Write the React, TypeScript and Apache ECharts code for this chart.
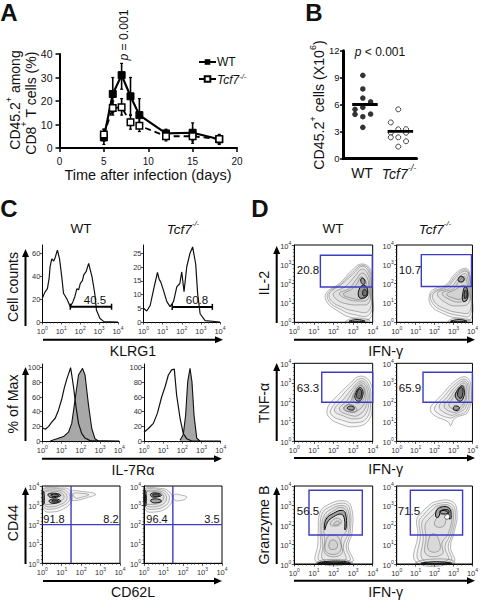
import React, { useEffect, useRef } from "react";
import * as echarts from "echarts";

const FONT = "Liberation Sans";
type P = number[];

// Panel A
const days = [5, 6, 7, 8, 9, 12, 15, 18];
const wtMean = [4.5, 23, 31, 22, 14, 6.2, 6.5, 3.7];
const koMean = [5.7, 17, 17.3, 11, 9.5, 5, 5, 3.8];
const wtHigh = [8, 30, 36, 30, 21, 8, 10.7, 5.8];
const wtLow = [1.5, 15, 25, 14, 9, 4.5, 3, 1.5];
const koHigh = [8, 20, 21, 14, 13, 7, 7.5, 5.5];
const koLow = [3, 14, 14, 8, 7, 3, 2, 2];

// Panel B
const wtDots: P[] = [[1, 9.25], [1, 7.73], [1, 6.72], [1.22, 6.3], [1, 5.68], [0.78, 5.46], [0.78, 4.9], [1.22, 4.93], [1, 4.64], [1, 3.45]];
const koDots: P[] = [[2, 5.46], [1.79, 4], [2, 3.23], [2.22, 3.25], [2.22, 2.85], [1.79, 2.85], [1.79, 2.34], [2, 2.34], [2.22, 1.9], [2, 1.3]];
const wtBar: P[] = [[0.7, 6], [1.42, 6]];
const koBar: P[] = [[1.7, 3], [2.42, 3]];

// Panel C histograms
const klrgWt: P[] = [[0, 20.6], [0.14, 26], [0.27, 29], [0.36, 38], [0.41, 48], [0.5, 55], [0.6, 53], [0.68, 56], [0.75, 60], [0.8, 62.6], [0.91, 55], [1.03, 39], [1.12, 25], [1.3, 20], [1.48, 13.3], [1.62, 17.7], [1.72, 22], [1.83, 29], [1.92, 28], [2.01, 33.6], [2.12, 36], [2.19, 41], [2.32, 44], [2.45, 51], [2.63, 39], [2.77, 25], [2.86, 10.4], [3.04, 3.2], [3.25, 0.3], [4, 0]];
const klrgKo: P[] = [[0, 5], [0.17, 4], [0.35, 6], [0.52, 11.6], [0.73, 18], [0.82, 15.5], [0.9, 14.6], [1.04, 11.6], [1.22, 7.4], [1.39, 5.6], [1.57, 7.4], [1.74, 12.8], [1.9, 14], [2, 18.2], [2.12, 11], [2.26, 20], [2.43, 25], [2.57, 27.3], [2.73, 21], [2.83, 10.4], [2.96, 3], [3.22, 0.5], [4, 0]];
const il7OpenWt: P[] = [[0, 18], [0.16, 16], [0.33, 20], [0.5, 26], [0.67, 31], [0.84, 42], [1.02, 58], [1.14, 72], [1.28, 85], [1.41, 95], [1.47, 100], [1.53, 90], [1.62, 74], [1.76, 45], [1.88, 24], [2.05, 10], [2.22, 4], [2.48, 0.5], [4, 0]];
const il7FillWt: P[] = [[0.41, 0], [0.76, 3], [1.1, 6], [1.36, 12], [1.53, 24], [1.71, 58], [1.88, 90], [2.09, 99], [2.22, 90], [2.4, 49], [2.57, 17], [2.74, 3], [2.91, 0]];
const il7OpenKo: P[] = [[0, 12], [0.23, 17], [0.49, 24], [0.7, 38], [0.92, 60], [1.1, 74], [1.27, 90], [1.44, 97], [1.58, 98], [1.7, 63], [1.88, 31], [2.05, 10], [2.23, 3], [2.49, 0], [4, 0]];
const il7FillKo: P[] = [[1.88, 1], [2.05, 9], [2.17, 35], [2.28, 81], [2.4, 99], [2.5, 81], [2.61, 35], [2.75, 4], [2.92, 0]];
const klrgGateWt: P[] = [[1.48, 13.3], [3.66, 13.3]];
const klrgGateKo: P[] = [[1.5, 5.5], [3.6, 5.5]];

// Panel C contours (log10 units)
const cdWtRings: P[][] = [
  [[0.03, 3.85], [0.9, 3.9], [1.42, 3.78], [1.52, 3.25], [1.1, 2.82], [0.45, 2.65], [0.08, 2.75], [0.02, 3.3]],
  [[0.06, 3.8], [0.85, 3.85], [1.3, 3.7], [1.4, 3.28], [1, 2.95], [0.45, 2.8], [0.1, 2.88], [0.05, 3.3]],
  [[0.08, 3.72], [0.8, 3.78], [1.2, 3.62], [1.25, 3.3], [0.95, 3.05], [0.45, 2.92], [0.12, 3], [0.07, 3.3]],
  [[0.1, 3.65], [0.7, 3.72], [1.05, 3.6], [1.1, 3.35], [0.8, 3.15], [0.4, 3.05], [0.12, 3.1]],
  [[1.5, 3.72], [2, 3.72], [2.75, 3.58], [2.25, 3.38], [1.7, 3.25], [1.5, 3.3]],
  [[1.6, 3.62], [2, 3.62], [2.4, 3.55], [2.1, 3.44], [1.7, 3.38]],
];
const cdWtCore: P[][] = [
  [[0.3, 3.58], [0.7, 3.62], [0.95, 3.52], [0.75, 3.42], [0.4, 3.42]],
  [[0.45, 3.55], [0.72, 3.57], [0.85, 3.5], [0.7, 3.46], [0.5, 3.47]],
  [[0.35, 3.25], [0.7, 3.33], [0.95, 3.22], [0.75, 3.12], [0.45, 3.12]],
  [[0.5, 3.24], [0.7, 3.27], [0.85, 3.2], [0.7, 3.17], [0.52, 3.18]],
  [[0.02, 3.7], [0.08, 3.7], [0.09, 3.1], [0.02, 3.05]],
];
const cdKoRings: P[][] = [
  [[0.03, 3.85], [0.8, 3.88], [1.25, 3.75], [1.45, 3.3], [1.15, 2.85], [0.5, 2.65], [0.08, 2.75], [0.02, 3.3]],
  [[0.06, 3.8], [0.75, 3.82], [1.15, 3.68], [1.3, 3.3], [1.05, 2.95], [0.5, 2.8], [0.1, 2.88], [0.05, 3.3]],
  [[0.08, 3.72], [0.7, 3.75], [1.05, 3.62], [1.15, 3.3], [0.95, 3.05], [0.45, 2.92], [0.12, 3], [0.07, 3.3]],
  [[0.1, 3.65], [0.65, 3.7], [0.95, 3.58], [1, 3.32], [0.8, 3.12], [0.4, 3.05], [0.12, 3.1]],
  [[1.55, 3.55], [1.95, 3.52], [2.2, 3.42], [1.95, 3.26], [1.55, 3.28]],
];
const cdKoCore: P[][] = [
  [[0.35, 3.6], [0.7, 3.63], [0.9, 3.52], [0.7, 3.44], [0.4, 3.44]],
  [[0.45, 3.56], [0.7, 3.58], [0.8, 3.51], [0.65, 3.47], [0.48, 3.48]],
  [[0.35, 3.28], [0.7, 3.33], [0.9, 3.22], [0.7, 3.14], [0.42, 3.15]],
  [[0.02, 3.75], [0.09, 3.75], [0.1, 3.0], [0.02, 2.95]],
  [[0.03, 3.55], [0.07, 3.55], [0.07, 3.15], [0.03, 3.15]],
];

// Panel D contours (log10 units)
const il2WtRings: P[][] = [
  [[1.62, 1.5], [1.7, 1], [2.2, 0.6], [2.9, 0.25], [3.9, 0.25], [3.97, 1.7], [3.9, 2.7], [3.45, 3.02], [2.95, 2.7], [2.35, 2.05]],
  [[1.72, 1.5], [1.8, 1.05], [2.3, 0.7], [2.95, 0.42], [3.85, 0.42], [3.93, 1.7], [3.85, 2.65], [3.45, 2.96], [2.98, 2.6], [2.38, 2]],
  [[1.8, 1.5], [1.9, 1.1], [2.4, 0.8], [3, 0.6], [3.8, 0.6], [3.9, 1.7], [3.8, 2.6], [3.45, 2.9], [3, 2.5], [2.4, 1.95]],
  [[2, 1.5], [2.2, 1.15], [2.7, 0.95], [3.3, 0.9], [3.8, 1], [3.85, 1.8], [3.75, 2.5], [3.45, 2.75], [3.1, 2.4], [2.6, 1.85]],
  [[2.3, 1.5], [2.7, 1.2], [3.3, 1.1], [3.75, 1.2], [3.8, 1.8], [3.7, 2.35], [3.45, 2.55], [3.15, 2.2], [2.8, 1.75]],
  [[2.5, 1.45], [2.9, 1.25], [3.4, 1.2], [3.7, 1.4], [3.7, 1.9], [3.6, 2.2], [3.4, 2.35], [3.2, 2], [2.9, 1.7]],
  [[2.6, 0.03], [3, 0.02], [3.5, 0.03], [3.85, 0.1], [3.5, 0.2], [3, 0.2]],
];
const il2WtCore: P[][] = [
  [[3.3, 1.3], [3.65, 1.3], [3.75, 1.6], [3.6, 1.9], [3.35, 1.8]],
  [[3.45, 2], [3.6, 2], [3.55, 2.25], [3.4, 2.25]],
  [[2.8, 0.05], [3.6, 0.05], [3.2, 0.14]],
  [[3.5, 1.4], [3.68, 1.4], [3.7, 1.6], [3.55, 1.7]],
];
const il2KoRings: P[][] = [
  [[1.76, 1.5], [1.8, 0.9], [2.41, 0.47], [3.28, 0.2], [3.93, 0.2], [3.95, 1.67], [3.83, 2.62], [3.62, 2.8], [3.1, 2.53], [2.59, 1.93], [2.07, 1.76]],
  [[1.85, 1.5], [1.9, 0.98], [2.48, 0.58], [3.3, 0.35], [3.88, 0.38], [3.92, 1.65], [3.8, 2.55], [3.6, 2.72], [3.15, 2.46], [2.65, 1.9]],
  [[1.95, 1.5], [2, 1.05], [2.55, 0.7], [3.3, 0.5], [3.85, 0.55], [3.88, 1.6], [3.78, 2.5], [3.6, 2.65], [3.2, 2.4], [2.7, 1.85]],
  [[2.15, 1.5], [2.7, 0.95], [3.3, 0.85], [3.8, 1], [3.82, 1.7], [3.72, 2.4], [3.58, 2.52], [3.28, 2.3], [2.85, 1.8]],
  [[2.4, 1.5], [2.85, 1.15], [3.35, 1.05], [3.75, 1.2], [3.75, 1.75], [3.65, 2.3], [3.55, 2.38], [3.3, 2.15], [3, 1.75]],
  [[2.65, 1.45], [3, 1.25], [3.4, 1.2], [3.7, 1.4], [3.68, 1.85], [3.45, 1.9], [3.1, 1.7]],
  [[2.7, 0.03], [3.1, 0.02], [3.6, 0.03], [3.9, 0.1], [3.5, 0.2], [3, 0.2]],
];
const il2KoCore: P[][] = [
  [[3.5, 1.1], [3.7, 1.15], [3.75, 1.6], [3.62, 1.85], [3.5, 1.55]],
  [[3.58, 1.25], [3.7, 1.3], [3.7, 1.6], [3.6, 1.65]],
  [[3.25, 2.15], [3.5, 2.1], [3.55, 2.3], [3.35, 2.38]],
  [[2.85, 0.05], [3.7, 0.05], [3.3, 0.14]],
];
const tnfWtRings: P[][] = [
  [[1.67, 1.6], [1.75, 1.26], [2.26, 0.92], [3.1, 0.75], [3.8, 1.09], [3.98, 2.05], [3.88, 3], [3.37, 3.34], [2.77, 2.9], [2.26, 2.4], [1.84, 1.96]],
  [[1.85, 1.6], [1.95, 1.3], [2.4, 1.1], [3.1, 0.95], [3.7, 1.2], [3.9, 2.05], [3.8, 2.9], [3.4, 3.22], [2.85, 2.8], [2.4, 2.3]],
  [[2.05, 1.6], [2.5, 1.3], [3.1, 1.15], [3.6, 1.35], [3.82, 2.1], [3.75, 2.8], [3.4, 3.1], [2.95, 2.7], [2.55, 2.2]],
  [[2.3, 1.65], [2.8, 1.35], [3.3, 1.35], [3.7, 1.9], [3.7, 2.7], [3.4, 3], [3, 2.6], [2.7, 2.1]],
  [[2.55, 1.7], [2.85, 1.5], [3.2, 1.55], [3.6, 2], [3.62, 2.6], [3.4, 2.9], [3.05, 2.5], [2.85, 2]],
  [[3, 2.1], [3.25, 1.95], [3.55, 2.2], [3.55, 2.7], [3.35, 2.85], [3.1, 2.5]],
  [[2.5, 1.65], [2.9, 1.5], [3.2, 1.6], [3, 1.85], [2.65, 1.85]],
];
const tnfWtCore: P[][] = [
  [[3.1, 2.2], [3.3, 2.05], [3.48, 2.3], [3.48, 2.65], [3.32, 2.75], [3.15, 2.5]],
  [[3.18, 2.3], [3.32, 2.18], [3.42, 2.35], [3.42, 2.6], [3.3, 2.68], [3.2, 2.5]],
  [[2.7, 1.68], [3, 1.6], [3.05, 1.75], [2.8, 1.8]],
];
const tnfKoRings: P[][] = [
  [[1.78, 1.7], [1.95, 1.35], [2.72, 1], [2.84, 0.8], [3.07, 1.18], [3.76, 1.52], [3.93, 2.73], [3.67, 3.29], [3.07, 3.08], [2.38, 2.38], [2.03, 2.03]],
  [[2, 1.72], [2.15, 1.45], [2.8, 1.2], [3.1, 1.3], [3.7, 1.6], [3.85, 2.7], [3.62, 3.18], [3.1, 2.95], [2.5, 2.3]],
  [[2.25, 1.75], [2.8, 1.35], [3.15, 1.42], [3.65, 1.75], [3.78, 2.65], [3.6, 3.08], [3.15, 2.85], [2.65, 2.25]],
  [[2.5, 1.8], [2.9, 1.5], [3.25, 1.55], [3.6, 1.9], [3.7, 2.6], [3.58, 2.98], [3.2, 2.75], [2.8, 2.2]],
  [[2.75, 1.85], [3, 1.65], [3.3, 1.7], [3.6, 2.1], [3.62, 2.6], [3.52, 2.88], [3.25, 2.65], [2.95, 2.2]],
];
const tnfKoCore: P[][] = [
  [[3.1, 2.3], [3.35, 2.05], [3.55, 2.3], [3.55, 2.7], [3.45, 2.85], [3.22, 2.65]],
  [[3.22, 2.35], [3.38, 2.2], [3.48, 2.4], [3.48, 2.7], [3.38, 2.75], [3.26, 2.6]],
  [[3, 1.62], [3.25, 1.6], [3.3, 1.75], [3.05, 1.8]],
];
const gzbWtRings: P[][] = [
  [[1.15, 0.1], [1.2, 1], [1.22, 1.6], [1.3, 2.6], [1.65, 3], [2.5, 3.25], [2.9, 2.95], [2.95, 1.6], [2.75, 0.9], [2.95, 0.1]],
  [[1.3, 0.15], [1.35, 1], [1.32, 1.7], [1.4, 2.55], [1.75, 2.9], [2.5, 3.12], [2.82, 2.85], [2.85, 1.6], [2.65, 0.9], [2.8, 0.15]],
  [[1.5, 0.2], [1.45, 1], [1.4, 1.7], [1.5, 2.45], [1.85, 2.8], [2.45, 3], [2.75, 2.75], [2.78, 1.7], [2.5, 0.9], [2.6, 0.2]],
  [[1.6, 0.5], [1.55, 1.3], [1.5, 1.75], [1.58, 2.35], [1.95, 2.7], [2.4, 2.9], [2.68, 2.65], [2.68, 1.75], [2.4, 1.3], [2.4, 0.5]],
  [[1.65, 0.6], [2.3, 0.6], [2.3, 1.3], [1.95, 1.5], [1.65, 1.3]],
  [[1.8, 0.8], [2.15, 0.8], [2.15, 1.15], [1.85, 1.2]],
  [[1.85, 2], [1.9, 2.2], [2.2, 2.35], [2.4, 2.2], [2.3, 2], [2.05, 1.95]],
  [[2, 2.05], [2.2, 2.2], [2.32, 2.1], [2.1, 2]],
  [[1.1, 0.03], [1.3, 0.16], [1.6, 0.22], [2.4, 0.22], [2.85, 0.15], [2.97, 0.03]],
];
const gzbWtCore: P[][] = [
  [[1.55, 1.75], [1.62, 2.3], [2, 2.6], [2.45, 2.75], [2.62, 2.55], [2.65, 1.9], [2.58, 1.75], [2.56, 2.3], [2.4, 2.55], [2, 2.42], [1.7, 2.15]],
  [[1.2, 0.03], [1.5, 0.12], [2.5, 0.14], [2.85, 0.03]],
  [[1.3, 0.03], [2.7, 0.03], [2.4, 0.08], [1.6, 0.08]],
];
const gzbKoRings: P[][] = [
  [[1.03, 0.1], [1.12, 1.57], [1.05, 2.26], [1.29, 2.6], [1.63, 2.94], [2.06, 3.2], [2.93, 3.2], [3.19, 2.6], [3.02, 1.57], [2.84, 0.89], [3, 0.1]],
  [[1.2, 0.15], [1.25, 1.5], [1.18, 2.2], [1.4, 2.5], [1.72, 2.84], [2.1, 3.08], [2.88, 3.08], [3.1, 2.55], [2.92, 1.5], [2.72, 0.9], [2.85, 0.15]],
  [[1.4, 0.2], [1.4, 1.4], [1.32, 2.1], [1.52, 2.42], [1.85, 2.74], [2.15, 2.98], [2.82, 2.98], [3, 2.5], [2.82, 1.5], [2.55, 0.9], [2.7, 0.2]],
  [[1.55, 0.5], [1.55, 1.4], [1.5, 2], [1.7, 2.3], [2, 2.6], [2.2, 2.9], [2.78, 2.9], [2.92, 2.45], [2.72, 1.55], [2.4, 1.1], [2.4, 0.5]],
  [[1.7, 0.7], [2.25, 0.7], [2.2, 1.3], [1.95, 1.55], [1.72, 1.35]],
  [[2, 2], [2.2, 2.45], [2.5, 2.55], [2.6, 2.25], [2.4, 1.9]],
  [[1, 0.03], [1.3, 0.18], [1.9, 0.25], [2.6, 0.25], [3, 0.16], [3.05, 0.03]],
];
const gzbKoCore: P[][] = [
  [[2.05, 2.45], [2.2, 2.85], [2.75, 2.88], [2.88, 2.4], [2.8, 2.3], [2.7, 2.65], [2.35, 2.72], [2.2, 2.4]],
  [[2.3, 2.72], [2.7, 2.78], [2.75, 2.62], [2.35, 2.58]],
  [[1.3, 0.03], [2.9, 0.03], [2.5, 0.1], [1.7, 0.1]],
];
const gzbKoHole: P[][] = [[[2.52, 2.4], [2.7, 2.55], [2.8, 2.42], [2.68, 2.3]]];

// Gates [x0, y0, x1, y1]
const gateIl2Wt = [1.33, 1.83, 3.98, 3.47];
const gateIl2Ko = [1.3, 1.85, 3.95, 3.5];
const gateTnfWt = [1.4, 2, 4, 3.54];
const gateTnfKo = [1.39, 2, 4, 3.54];
const gateGzbWt = [0.75, 1.49, 3.47, 3.78];
const gateGzbKo = [0.72, 1.49, 3.48, 3.78];
const quadX = 1.48;
const quadY = 2;

const countTicksWt = [0, 20, 40, 60];
const countTicksKo = [0, 5, 10, 15, 20, 25];
const percentTicks = [0, 20, 40, 60, 80, 100];
const logBase = "10";

const BLUE = "#3c3cc4";
const INK = "#111";

function richFor(size: number) {
  const h = Math.round(size * 1.25);
  const base = { fontFamily: FONT, fill: INK, color: INK, lineHeight: h };
  return {
    n: { ...base, fontSize: size, verticalAlign: "bottom" },
    i: { ...base, fontSize: size, fontStyle: "italic", verticalAlign: "bottom" },
    u: { ...base, fontSize: Math.round(size * 0.62), verticalAlign: "top" },
    v: { ...base, fontSize: Math.round(size * 0.62), fontStyle: "italic", verticalAlign: "top" },
  };
}
function T(x: number, y: number, text: string, size = 14.2, rot = 0, bold = false) {
  return {
    type: "text", x, y, rotation: rot, silent: true, z: 20,
    style: {
      text, fontSize: size, fontFamily: FONT, fontWeight: bold ? "bold" : "normal", fill: INK,
      align: "center", verticalAlign: "middle", rich: richFor(size),
    },
  };
}
const V = Math.PI / 2;
function arrow(x1: number, y1: number, x2: number, y2: number) {
  const dx = Math.sign(x2 - x1), dy = Math.sign(y2 - y1);
  const L = 8, W = 3.5;
  return [
    { type: "line", silent: true, z: 20, shape: { x1, y1, x2: x2 - dx * L, y2: y2 - dy * L }, style: { stroke: "#000", lineWidth: 2 } },
    { type: "polygon", silent: true, z: 20, shape: { points: [[x2, y2], [x2 - dx * L + dy * W, y2 - dy * L + dx * W], [x2 - dx * L - dy * W, y2 - dy * L - dx * W]] }, style: { fill: "#000" } },
  ];
}

function buildOption() {
  const grid: any[] = [], xAxis: any[] = [], yAxis: any[] = [], series: any[] = [];
  const add = (g: any, x: any, y: any) => {
    grid.push({ ...g, containLabel: false });
    xAxis.push({ gridIndex: grid.length - 1, type: "value", ...x });
    yAxis.push({ gridIndex: grid.length - 1, type: "value", ...y });
    return grid.length - 1;
  };
  const box = (left: number, right: number, top: number, bottom: number, border = false) => ({
    left, top, width: right - left, height: bottom - top,
    show: border, borderColor: "#000", borderWidth: 1, backgroundColor: "transparent",
  });
  const richLog = {
    b: { fontSize: 7.5, fontFamily: FONT, color: "#333", lineHeight: 10, verticalAlign: "bottom" },
    s: { fontSize: 5, fontFamily: FONT, color: "#333", lineHeight: 10, verticalAlign: "top" },
  };
  const logAxis = (extra: any = {}) => ({
    min: 0, max: 4, interval: 1, splitLine: { show: false },
    axisLine: { show: true, onZero: false, lineStyle: { color: "#000", width: 1 } },
    axisTick: { show: true, length: 2.5, lineStyle: { color: "#222", width: 0.8 } },
    minorTick: { show: true, splitNumber: 5, length: 1.5, lineStyle: { color: "#333", width: 0.6 } },
    axisLabel: { margin: 3, formatter: (v: number) => `{b|${logBase}}{s|${v}}`, rich: richLog },
    ...extra,
  });
  const countAxis = (max: number, ticks: number[]) => ({
    min: 0, max, splitLine: { show: false },
    interval: ticks[1] - ticks[0],
    axisLine: { show: true, onZero: false, lineStyle: { color: "#000", width: 1 } },
    axisTick: { show: true, length: 2.5, lineStyle: { color: "#222", width: 0.8 } },
    axisLabel: { margin: 2, fontSize: 7.5, fontFamily: FONT, color: "#333", showMaxLabel: false,
      formatter: (v: number) => (ticks.includes(v) ? String(v) : "") },
  });

  // ---- Panel A
  const a = add(box(59.5, 237, 54, 148),
    { min: 0, max: 20, interval: 5, splitLine: { show: false },
      axisLine: { onZero: false, lineStyle: { color: "#000", width: 2 } },
      axisTick: { length: 4, lineStyle: { color: "#000", width: 1.5 } },
      axisLabel: { margin: 8, fontSize: 10, fontFamily: FONT, color: INK } },
    { min: 0, max: 40, interval: 10, splitLine: { show: false },
      axisLine: { show: true, onZero: false, lineStyle: { color: "#000", width: 2 } },
      axisTick: { show: true, length: 4, lineStyle: { color: "#000", width: 1.5 } },
      axisLabel: { margin: 7, fontSize: 10.5, fontFamily: FONT, color: INK } });
  const errs = (hi: number[], lo: number[]) => ({
    type: "custom", xAxisIndex: a, yAxisIndex: a, silent: true, z: 2,
    data: days.map((d, i) => [d, hi[i], lo[i]]),
    renderItem: (_: any, api: any) => {
      const h = api.coord([api.value(0), api.value(1)]);
      const l = api.coord([api.value(0), api.value(2)]);
      return { type: "group", children: [
        { type: "line", shape: { x1: h[0], y1: h[1], x2: l[0], y2: l[1] }, style: { stroke: "#000", lineWidth: 1.6 } },
        { type: "line", shape: { x1: h[0] - 1.5, y1: h[1], x2: h[0] + 1.5, y2: h[1] }, style: { stroke: "#000", lineWidth: 1.2 } },
        { type: "line", shape: { x1: l[0] - 1.5, y1: l[1], x2: l[0] + 1.5, y2: l[1] }, style: { stroke: "#000", lineWidth: 1.2 } },
      ] };
    },
  });
  series.push(errs(wtHigh, wtLow), errs(koHigh, koLow));
  series.push({
    name: "WT", type: "line", xAxisIndex: a, yAxisIndex: a, z: 3, symbol: "rect", symbolSize: 7,
    data: days.map((d, i) => [d, wtMean[i]]), lineStyle: { color: "#000", width: 2.2 },
    itemStyle: { color: "#000", borderColor: "#000" }, silent: true,
  });
  series.push({
    name: "Tcf7-/-", type: "line", xAxisIndex: a, yAxisIndex: a, z: 4, symbol: "rect", symbolSize: 6.5,
    data: days.map((d, i) => [d, koMean[i]]), lineStyle: { color: "#000", width: 1.8, type: [6, 4] },
    itemStyle: { color: "#fff", borderColor: "#000", borderWidth: 1.5 }, silent: true,
  });

  // ---- Panel B
  const b = add(box(343.5, 416.5, 50.7, 158.3),
    { min: 0.455, max: 2.515, show: true, splitLine: { show: false },
      axisLine: { onZero: false, lineStyle: { color: "#000", width: 3 } },
      axisTick: { show: false }, axisLabel: { show: false } },
    { min: 0, max: 12, interval: 3, splitLine: { show: false },
      axisLine: { show: true, onZero: false, lineStyle: { color: "#000", width: 3 } },
      axisTick: { show: true, length: 3.5, lineStyle: { color: "#000", width: 1.5 } },
      axisLabel: { margin: 4, fontSize: 9.5, fontFamily: FONT, color: INK } });
  series.push({ type: "scatter", xAxisIndex: b, yAxisIndex: b, data: wtDots, symbolSize: 5.5, itemStyle: { color: "#000" }, silent: true });
  series.push({ type: "scatter", xAxisIndex: b, yAxisIndex: b, data: koDots, symbolSize: 5, itemStyle: { color: "#fff", borderColor: "#000", borderWidth: 0.9 }, silent: true });
  for (const d of [wtBar, koBar])
    series.push({ type: "line", xAxisIndex: b, yAxisIndex: b, data: d, symbol: "none", z: 5, lineStyle: { color: "#000", width: 2.8 }, silent: true });

  // ---- Histograms
  const histLine = (g: number, data: P[]) => ({
    type: "line", xAxisIndex: g, yAxisIndex: g, data, symbol: "none", z: 4,
    lineStyle: { color: "#111", width: 1.2 }, silent: true,
  });
  const histFill = (g: number, data: P[]) => ({
    type: "line", xAxisIndex: g, yAxisIndex: g, data, symbol: "none", z: 3,
    lineStyle: { color: "#111", width: 1.1 }, areaStyle: { color: "#a8a8a8", opacity: 1 }, silent: true,
  });
  const gateLine = (g: number, data: P[]) => ({
    type: "line", xAxisIndex: g, yAxisIndex: g, data, z: 5, symbol: "rect", symbolSize: [1.5, 6],
    lineStyle: { color: "#000", width: 2 }, itemStyle: { color: "#000" }, silent: true,
  });
  const c1 = add(box(42.3, 118, 245, 322), logAxis(), countAxis(67, countTicksWt));
  series.push(histLine(c1, klrgWt), gateLine(c1, klrgGateWt));
  const c2 = add(box(143.5, 220, 245, 322), logAxis(), countAxis(28, countTicksKo));
  series.push(histLine(c2, klrgKo), gateLine(c2, klrgGateKo));
  const c3 = add(box(42.3, 119.3, 364, 441), logAxis(), countAxis(105, percentTicks));
  series.push(histFill(c3, il7FillWt), histLine(c3, il7OpenWt));
  const c4 = add(box(144, 220.7, 364, 441), logAxis(), countAxis(105, percentTicks));
  series.push(histFill(c4, il7FillKo), histLine(c4, il7OpenKo));

  // ---- Contours
  const rings = (g: number, list: P[][], stroke: string, fill: string, width: number, z: number) => ({
    type: "custom", xAxisIndex: g, yAxisIndex: g, silent: true, z,
    data: list.map(r => r[0]),
    renderItem: (p: any, api: any) => ({
      type: "polygon",
      shape: { points: list[p.dataIndex].map(q => api.coord(q)), smooth: 0.45 },
      style: { stroke, fill, lineWidth: width },
    }),
  });
  const contour = (l: number, r: number, t: number, bm: number, light: P[][], core: P[][]) => {
    const g = add(box(l, r, t, bm, true), logAxis(), logAxis());
    series.push(rings(g, light, "rgba(50,50,50,0.7)", "rgba(70,70,70,0.045)", 0.5, 2));
    series.push(rings(g, core, "#111", "rgba(20,20,20,0.3)", 1, 3));
    return g;
  };
  const gate = (g: number, box4: number[]) => ({
    type: "custom", xAxisIndex: g, yAxisIndex: g, silent: true, z: 6,
    data: [box4],
    renderItem: (_: any, api: any) => {
      const p0 = api.coord([api.value(0), api.value(1)]);
      const p1 = api.coord([api.value(2), api.value(3)]);
      return { type: "rect", shape: { x: p0[0], y: p1[1], width: p1[0] - p0[0], height: p0[1] - p1[1] },
        style: { stroke: BLUE, fill: "none", lineWidth: 1.4 } };
    },
  });
  const quad = (g: number) => [
    { type: "line", xAxisIndex: g, yAxisIndex: g, data: [[quadX, 0], [quadX, 4]], symbol: "none", z: 6, lineStyle: { color: BLUE, width: 1.4 }, silent: true },
    { type: "line", xAxisIndex: g, yAxisIndex: g, data: [[0, quadY], [4, quadY]], symbol: "none", z: 6, lineStyle: { color: BLUE, width: 1.4 }, silent: true },
  ];
  const c5 = contour(42.3, 120, 486, 563.3, cdWtRings, cdWtCore); series.push(...quad(c5));
  const c6 = contour(144, 222, 486, 563.3, cdKoRings, cdKoCore); series.push(...quad(c6));

  const dL = [294.3, 372.7], dR = [396.7, 474.3];
  const d1 = contour(dL[0], dL[1], 245, 322.3, il2WtRings, il2WtCore); series.push(gate(d1, gateIl2Wt));
  const d2 = contour(dR[0], dR[1], 245, 322.3, il2KoRings, il2KoCore); series.push(gate(d2, gateIl2Ko));
  const d3 = contour(dL[0], dL[1], 363.3, 441.3, tnfWtRings, tnfWtCore); series.push(gate(d3, gateTnfWt));
  const d4 = contour(dR[0], dR[1], 363.3, 441.3, tnfKoRings, tnfKoCore); series.push(gate(d4, gateTnfKo));
  const d5 = contour(dL[0], dL[1], 486, 564, gzbWtRings, gzbWtCore); series.push(gate(d5, gateGzbWt));
  const d6 = contour(dR[0], dR[1], 486, 564, gzbKoRings, gzbKoCore); series.push(gate(d6, gateGzbKo));
  series.push(rings(d6, gzbKoHole, "#222", "#fff", 0.6, 4));

  const ko = "{i|Tcf7}{v|-/-}";
  const graphic: any[] = [
    T(9, 12, "A", 24, 0, true), T(314, 12, "B", 24, 0, true), T(9, 208, "C", 24, 0, true), T(260, 208, "D", 24, 0, true),
    T(13, 100, "{n|CD45.2}{u|+}{n| among}", 14, V),
    T(28.5, 103, "{n|CD8}{u|+}{n| T cells (%)}", 14, V),
    T(148, 175, "Time after infection (days)", 14.5),
    T(122, 35, "{i|p}{n| = 0.001}", 12.2, V),
    T(317, 105, "{n|CD45.2}{u|+}{n| cells (X10}{u|6}{n|)}", 14.2, V),
    T(380, 50, "{i|p}{n| < 0.001}", 12),
    T(362, 173, "WT", 14), T(399, 172, ko, 14),
    T(81, 228, "WT", 13.5), T(183, 228, ko, 13.5), T(333, 228, "WT", 13.5), T(435, 228, ko, 13.5),
    T(12.5, 287, "Cell counts", 14.2, V), T(12.5, 404, "% of Max", 14.2, V), T(12.5, 523, "CD44", 14.2, V),
    T(133, 351, "KLRG1"), T(133, 470, "IL-7R\u03B1"), T(133, 592, "CD62L"),
    T(264, 283, "IL-2", 14.2, V), T(264, 403, "TNF-\u03B1", 14.2, V), T(264, 525, "Granzyme B", 14.2, V),
    T(385.7, 351, "IFN-\u03B3"), T(385.7, 469, "IFN-\u03B3"), T(385.7, 592, "IFN-\u03B3"),
    T(95, 300, "40.5", 11.5), T(197, 300, "60.8", 11.5),
    T(54, 519, "91.8", 11), T(111, 519, "8.2", 11), T(157, 519, "96.4", 11), T(212, 519, "3.5", 11),
    T(308, 270, "20.8", 11.5), T(410, 270, "10.7", 11.5), T(308, 388, "63.3", 11.5), T(410, 388, "65.9", 11.5),
    T(308, 511, "56.5", 11.5), T(409, 511, "71.5", 11.5),
    ...arrow(25.5, 326, 25.5, 249), ...arrow(43, 339.7, 223, 339.7),
    ...arrow(25.5, 441, 25.5, 367), ...arrow(42, 458.7, 222, 458.7),
    ...arrow(25.5, 564, 25.5, 487), ...arrow(43, 581, 222, 581),
    ...arrow(276.7, 323, 276.7, 246), ...arrow(294, 339.7, 475, 339.7),
    ...arrow(276.7, 441, 276.7, 363), ...arrow(294, 458, 475, 458),
    ...arrow(276.7, 564, 276.7, 487), ...arrow(294, 580.7, 475, 580.7),
  ];

  return {
    animation: false,
    backgroundColor: "#fff",
    textStyle: { fontFamily: FONT },
    legend: {
      show: true, left: 198, top: 56, orient: "vertical", itemWidth: 17, itemHeight: 7, itemGap: 4,
      padding: 0, selectedMode: false, data: ["WT", "Tcf7-/-"],
      lineStyle: { type: "solid" },
      formatter: (n: string) => (n === "WT" ? "{t|WT}" : "{i|Tcf7}{s|-/-}"),
      textStyle: {
        padding: [0, 0, 0, -4],
        rich: {
          t: { fontSize: 12, fontFamily: FONT, color: INK, lineHeight: 14 },
          i: { fontSize: 12, fontFamily: FONT, fontStyle: "italic", color: INK, lineHeight: 14, verticalAlign: "bottom" },
          s: { fontSize: 7.5, fontFamily: FONT, fontStyle: "italic", color: INK, lineHeight: 14, verticalAlign: "top" },
        },
      },
    },
    grid, xAxis, yAxis, series, graphic,
  };
}

export default function App() {
  const ref = useRef<HTMLDivElement>(null);
  useEffect(() => {
    const chart = echarts.init(ref.current!, undefined, { renderer: "svg" });
    chart.setOption(buildOption() as any);
    return () => chart.dispose();
  }, []);
  return <div ref={ref} style={{ position: "fixed", left: 0, top: 0, width: 481, height: 601 }} />;
}
